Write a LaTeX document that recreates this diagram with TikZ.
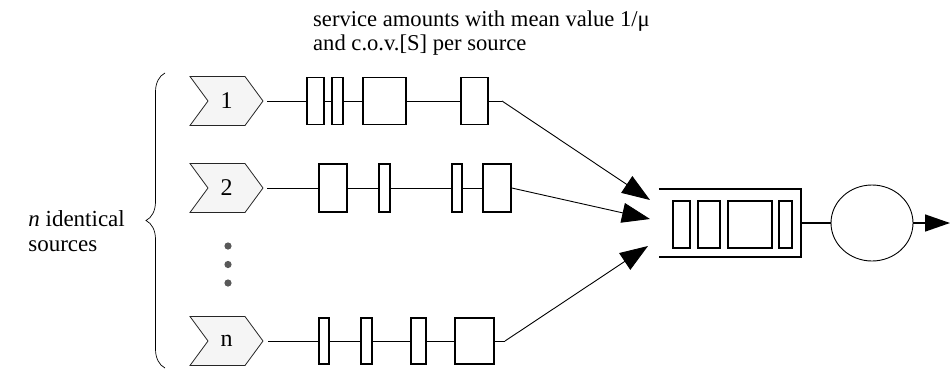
\documentclass[tikz,border=0pt]{standalone}
\usepackage{fontspec}
\setmainfont{Liberation Serif}
\usetikzlibrary{arrows.meta,shapes.geometric,decorations.pathreplacing}
\tikzset{
  sbox/.style={draw,line width=1.5pt,minimum height=#1,inner sep=0pt,fill=white},
  sbox/.default=47pt,
  srcnode/.style={draw=none,minimum width=73pt,minimum height=49pt,inner sep=0pt,font=\fontsize{24}{26}\selectfont},
  chevron/.style={draw=black!85,line width=0.8pt,fill=black!4},
  conn/.style={line width=0.9pt},
  inarrow/.style={conn,-{Triangle[length=28pt,width=20pt]}},
  lbl/.style={font=\fontsize{22.6}{23.5}\selectfont,align=left,inner sep=0pt},
  dotmark/.style={fill=black!65,draw=none}
}
\newcommand{\chevshape}[1]{%
  \draw[chevron] (190,#1-24.5) -- (245,#1-24.5) -- (263,#1) -- (245,#1+24.5) -- (190,#1+24.5) -- (208,#1) -- cycle;}
\begin{document}
\begin{tikzpicture}[x=1pt,y=-1pt]
\useasboundingbox (0,0) rectangle (950,370);

% top label
\node[lbl,anchor=north west] (top) at (313,11) {service amounts with mean value 1/μ\\and c.o.v.[S] per source};

% left label and brace
\node[lbl,font=\fontsize{23}{25}\selectfont,anchor=east] (left) at (125,231) {\textit{n} identical\\sources};
\draw[line width=0.7pt,decorate,decoration={brace,amplitude=19pt}] (165,368) -- (165,73);

% sources
\chevshape{101}
\node[srcnode] (s1) at (226.5,101) {1};
\chevshape{188}
\node[srcnode] (s2) at (226.5,188) {2};
\chevshape{341}
\node[srcnode] (s3) at (226.5,341) {n};

% dots
\fill[dotmark] (228,246) circle (3.6);
\fill[dotmark] (228,264.5) circle (3.6);
\fill[dotmark] (228,283) circle (3.6);

% row 1 boxes
\node[sbox,minimum width=17pt] (b11) at (315.5,101) {};
\node[sbox,minimum width=11pt] (b12) at (337.5,101) {};
\node[sbox,minimum width=43pt] (b13) at (384.5,101) {};
\node[sbox,minimum width=27pt] (b14) at (474.5,101) {};
% row 2 boxes
\node[sbox=48pt,minimum width=28pt] (b21) at (333,188) {};
\node[sbox=48pt,minimum width=11pt] (b22) at (384.5,188) {};
\node[sbox=48pt,minimum width=10pt] (b23) at (457,188) {};
\node[sbox=48pt,minimum width=28pt] (b24) at (497,188) {};
% row n boxes
\node[sbox=46pt,minimum width=10pt] (b31) at (324,341) {};
\node[sbox=46pt,minimum width=11pt] (b32) at (366.5,341) {};
\node[sbox=46pt,minimum width=15pt] (b33) at (418.5,341) {};
\node[sbox=46pt,minimum width=39pt] (b34) at (474.5,341) {};

% queue
\node[draw=none,minimum width=142pt,minimum height=68pt,inner sep=0pt] (q) at (730,223) {};
\draw[line width=1.5pt] (q.north west) -- (q.north east) -- (q.south east) -- (q.south west);
\node[sbox,minimum width=17pt] (q1) at (681.5,224.5) {};
\node[sbox,minimum width=22pt] (q2) at (709,224.5) {};
\node[sbox,minimum width=44pt] (q3) at (750,224.5) {};
\node[sbox,minimum width=13pt] (q4) at (785.5,224.5) {};

% server
\node[ellipse,draw,line width=0.9pt,minimum width=82pt,minimum height=76pt,inner sep=0pt] (srv) at (872,223) {};
\coordinate (out) at (950,223);

% arrow targets
\coordinate (k1) at (502,101);
\coordinate (k3) at (505,341);
\coordinate (t1) at (650,200);
\coordinate (t2) at (650,219);
\coordinate (t3) at (648,246);

% connectors row 1
\draw[conn,shorten <=4pt] (s1.east) -- (b11.west);
\draw[conn] (b11.east) -- (b12.west);
\draw[conn] (b12.east) -- (b13.west);
\draw[conn] (b13.east) -- (b14.west);
\draw[conn] (b14.east) -- (k1);
\draw[inarrow] (k1) -- (t1);
% row 2
\draw[conn,shorten <=4pt] (s2.east) -- (b21.west);
\draw[conn] (b21.east) -- (b22.west);
\draw[conn] (b22.east) -- (b23.west);
\draw[conn] (b23.east) -- (b24.west);
\draw[inarrow] (b24.east) -- (t2);
% row n
\draw[conn,shorten <=5pt] (s3.east) -- (b31.west);
\draw[conn] (b31.east) -- (b32.west);
\draw[conn] (b32.east) -- (b33.west);
\draw[conn] (b33.east) -- (b34.west);
\draw[conn] (b34.east) -- (k3);
\draw[inarrow] (k3) -- (t3);

% queue to server to out
\draw[line width=1.5pt] (q.east) -- (srv.west);
\draw[line width=1.5pt,-{Triangle[length=25pt,width=17pt]}] (srv.east) -- (out);
\end{tikzpicture}
\end{document}
